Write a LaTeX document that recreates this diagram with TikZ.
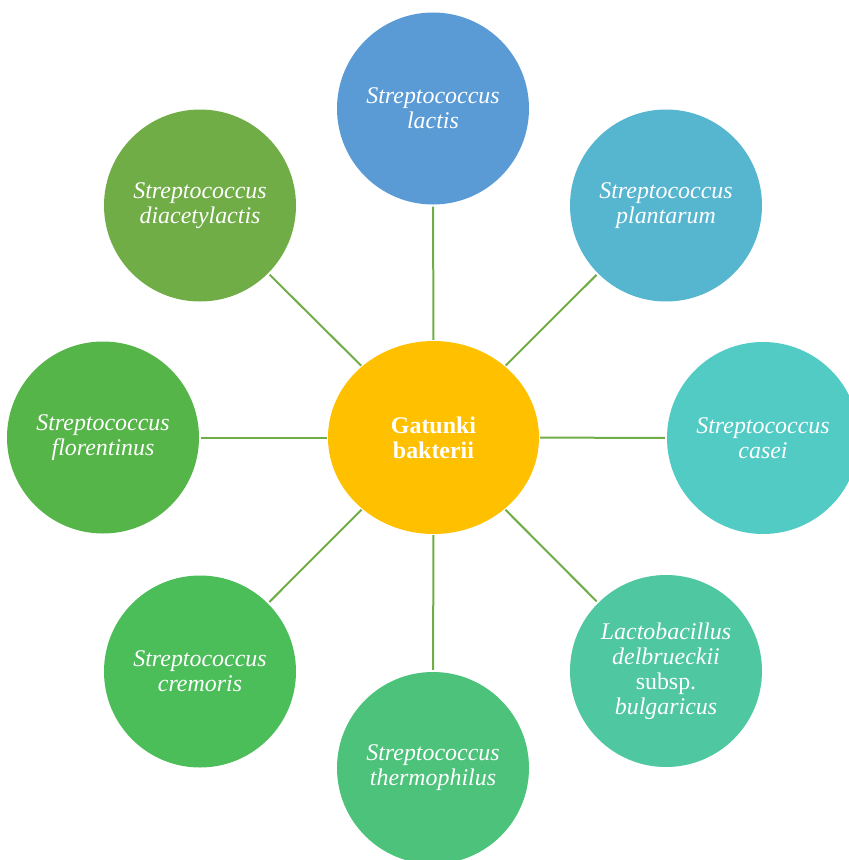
\documentclass[tikz,border=0pt]{standalone}
\usepackage{fontspec}
\setmainfont{Liberation Serif}
\usetikzlibrary{shapes.geometric}
\begin{document}
\begin{tikzpicture}[x=1bp,y=-1bp,
  species/.style={circle,minimum size=192bp,inner sep=0pt,fill=#1,
    text=white,align=center,font=\fontsize{24}{25}\selectfont\itshape},
  hub/.style={ellipse,minimum width=211bp,minimum height=193bp,inner sep=0pt,
    fill=hubgold,text=white,align=center,font=\fontsize{24}{25}\selectfont\bfseries},
  link/.style={draw=linkgreen,line width=2bp,shorten >=2bp,shorten <=1bp}]
\definecolor{hubgold}{HTML}{FFC000}
\definecolor{linkgreen}{HTML}{70AD47}
\definecolor{cA}{HTML}{5A9BD5}
\definecolor{cB}{HTML}{56B5CF}
\definecolor{cC}{HTML}{52CBC5}
\definecolor{cD}{HTML}{4FC7A0}
\definecolor{cE}{HTML}{4CC27B}
\definecolor{cF}{HTML}{4BBD59}
\definecolor{cG}{HTML}{56B548}
\definecolor{cH}{HTML}{71AD47}
\useasboundingbox (0,0) rectangle (849,860);
\begin{scope}
\clip (0,0) rectangle (849,860);
\node[hub] (hub) at (433.5,437.5) {Gatunki\\bakterii};
\node[species=cA] (lactis) at (433,108.5) {Streptococcus\\lactis};
\node[species=cB] (plantarum) at (666,205.5) {Streptococcus\\plantarum};
\node[species=cC] (casei) at (763,438) {Streptococcus\\casei};
\node[species=cD] (bulg) at (666,671) {Lactobacillus\\delbrueckii\\{\upshape subsp.}\\bulgaricus};
\node[species=cE] (thermo) at (433,768) {Streptococcus\\thermophilus};
\node[species=cF] (cremoris) at (200,671.5) {Streptococcus\\cremoris};
\node[species=cG] (floren) at (103,437.5) {Streptococcus\\florentinus};
\node[species=cH] (diacetyl) at (200,205.5) {Streptococcus\\diacetylactis};
\foreach \n in {lactis,plantarum,casei,bulg,thermo,cremoris,floren,diacetyl}
  \draw[link] (hub) -- (\n);
\end{scope}
\end{tikzpicture}
\end{document}
